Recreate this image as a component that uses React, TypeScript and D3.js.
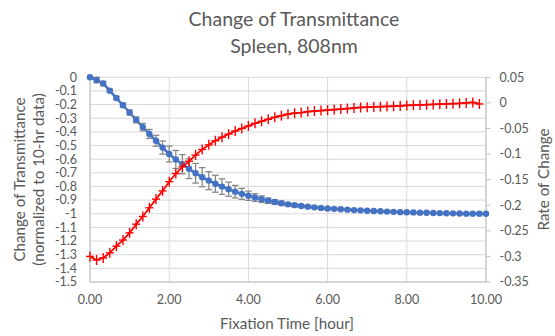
import React from "react";
import * as d3 from "d3";

// Sampling: one reading every 10 minutes over 10 hours
const HOURS_STEP = 1 / 6;

// Change of transmittance, normalized to the 10-hr value (left axis)
const transmittance = [
  0.0, -0.02, -0.045, -0.098, -0.152, -0.205, -0.258, -0.312, -0.365, -0.415,
  -0.465, -0.515, -0.562, -0.602, -0.637, -0.67, -0.703, -0.732, -0.757, -0.78,
  -0.801, -0.82, -0.838, -0.854, -0.868, -0.881, -0.893, -0.904, -0.914, -0.923,
  -0.931, -0.937, -0.943, -0.948, -0.953, -0.957, -0.961, -0.964, -0.967, -0.97,
  -0.973, -0.975, -0.978, -0.98, -0.982, -0.984, -0.986, -0.988, -0.989, -0.99,
  -0.992, -0.993, -0.994, -0.995, -0.996, -0.997, -0.998, -0.999, -0.999, -1.0,
  -1.0,
];

// Standard deviation of the transmittance change (error bars)
const transmittanceErr = [
  0.0, 0.02, 0.015, 0.012, 0.012, 0.015, 0.018, 0.022, 0.027, 0.033,
  0.04, 0.048, 0.058, 0.066, 0.07, 0.072, 0.072, 0.07, 0.066, 0.062,
  0.057, 0.052, 0.046, 0.04, 0.034, 0.028, 0.024, 0.02, 0.017, 0.015,
  0.013, 0.011, 0.009, 0.008, 0.007, 0.006, 0.005, 0.005, 0.004, 0.004,
  0.003, 0.003, 0.003, 0.002, 0.002, 0.002, 0.002, 0.002, 0.001, 0.001,
  0.001, 0.001, 0.001, 0.001, 0.001, 0.001, 0.0, 0.0, 0.0, 0.0,
  0.0,
];

// Rate of change per hour (right axis)
const rateOfChange = [
  -0.3, -0.307, -0.303, -0.293, -0.28, -0.268, -0.254, -0.237, -0.222, -0.205,
  -0.188, -0.172, -0.154, -0.138, -0.125, -0.114, -0.102, -0.091, -0.082, -0.074,
  -0.067, -0.061, -0.055, -0.05, -0.045, -0.04, -0.036, -0.032, -0.028, -0.025,
  -0.022, -0.02, -0.019, -0.017, -0.016, -0.015, -0.014, -0.013, -0.012, -0.011,
  -0.01, -0.009, -0.0085, -0.008, -0.0075, -0.007, -0.0065, -0.006, -0.005, -0.0045,
  -0.004, -0.0035, -0.003, -0.0025, -0.002, -0.0015, -0.001, 0.0, 0.001, -0.002,
];

const xTicks = [0, 2, 4, 6, 8, 10];
const leftTicks = [0, -0.1, -0.2, -0.3, -0.4, -0.5, -0.6, -0.7, -0.8, -0.9, -1, -1.1, -1.2, -1.3, -1.4, -1.5];
const rightTicks = [0.05, 0, -0.05, -0.1, -0.15, -0.2, -0.25, -0.3, -0.35];

const titleLines = ["Change of Transmittance", "Spleen, 808nm"];
const leftTitleLines = ["Change of Transmittance", "(normalized to 10-hr data)"];
const rightTitle = "Rate of Change";
const xTitle = "Fixation Time [hour]";

const W = 555;
const H = 336;
const plot = { left: 90, right: 486, top: 77.3, bottom: 282 };
const FONT = "Lato, 'Liberation Sans', Arial, sans-serif";
const TEXT = "#595959";
const GRID = "#d9d9d9";
const AXIS = "#bfbfbf";
const BLUE = "#4472C4";
const RED = "#FF0000";
const ERR = "#858585";

export default function App() {
  const x = d3.scaleLinear().domain([0, 10]).range([plot.left, plot.right]);
  const yL = d3.scaleLinear().domain([-1.5, 0]).range([plot.bottom, plot.top]);
  const yR = d3.scaleLinear().domain([-0.35, 0.05]).range([plot.bottom, plot.top]);

  const blue = transmittance.map((v, i) => ({ h: i * HOURS_STEP, v, e: transmittanceErr[i] }));
  const red = rateOfChange.map((v, i) => ({ h: i * HOURS_STEP, v }));

  const blueLine = d3
    .line<{ h: number; v: number }>()
    .x((d) => x(d.h))
    .y((d) => yL(d.v));
  const redLine = d3
    .line<{ h: number; v: number }>()
    .x((d) => x(d.h))
    .y((d) => yR(d.v));

  const fmtX = d3.format(".2f");
  const fmtL = (v: number) => (v === 0 ? "0" : String(+v.toFixed(1)));
  const fmtR = (v: number) => (v === 0 ? "0" : String(+v.toFixed(2)));
  const capHalf = 3.3;

  return (
    <svg
      width={W}
      height={H}
      style={{ position: "absolute", left: 0, top: 0, background: "#fff" }}
      fontFamily={FONT}
    >
      <rect x={0} y={0} width={W} height={H} fill="#fff" />

      {/* title */}
      {titleLines.map((t, i) => (
        <text key={t} x={294} y={26 + i * 27.3} textAnchor="middle" fontSize={19.5} fill={TEXT}>
          {t}
        </text>
      ))}

      {/* horizontal gridlines */}
      {leftTicks.map((t) => (
        <line key={"hg" + t} x1={plot.left} x2={plot.right} y1={yL(t)} y2={yL(t)} stroke={GRID} strokeWidth={1} />
      ))}
      {/* vertical gridlines */}
      {xTicks.map((t) => (
        <line key={"vg" + t} x1={x(t)} x2={x(t)} y1={plot.top} y2={plot.bottom} stroke={GRID} strokeWidth={1} />
      ))}

      {/* axes */}
      <line x1={plot.left} x2={plot.left} y1={plot.top} y2={plot.bottom} stroke={AXIS} strokeWidth={1} />
      <line x1={plot.left} x2={plot.right} y1={plot.bottom} y2={plot.bottom} stroke={AXIS} strokeWidth={1} />
      <line x1={plot.right} x2={plot.right} y1={plot.top} y2={plot.bottom} stroke={AXIS} strokeWidth={1} />
      {rightTicks.map((t) => (
        <line key={"rt" + t} x1={plot.right} x2={plot.right + 4.5} y1={yR(t)} y2={yR(t)} stroke={AXIS} strokeWidth={1} />
      ))}

      {/* tick labels */}
      {leftTicks.map((t) => (
        <text key={"lt" + t} x={77} y={yL(t)} dy="0.35em" textAnchor="end" fontSize={12.5} fill={TEXT}>
          {fmtL(t)}
        </text>
      ))}
      {rightTicks.map((t) => (
        <text key={"rl" + t} x={499.5} y={yR(t)} dy="0.35em" textAnchor="start" fontSize={12.5} fill={TEXT}>
          {fmtR(t)}
        </text>
      ))}
      {xTicks.map((t) => (
        <text key={"xt" + t} x={x(t)} y={303.5} textAnchor="middle" fontSize={12.5} fill={TEXT}>
          {fmtX(t)}
        </text>
      ))}

      {/* axis titles */}
      <text x={287} y={329} textAnchor="middle" fontSize={15.2} fill={TEXT}>
        {xTitle}
      </text>
      {leftTitleLines.map((t, i) => (
        <text
          key={t}
          transform={`translate(${19.5 + i * 19},${179.5}) rotate(-90)`}
          dy="0.35em"
          textAnchor="middle"
          fontSize={15.2}
          fill={TEXT}
        >
          {t}
        </text>
      ))}
      <text
        transform={`translate(${544},${179.5}) rotate(-90)`}
        dy="0.35em"
        textAnchor="middle"
        fontSize={15.2}
        fill={TEXT}
      >
        {rightTitle}
      </text>

      {/* transmittance series */}
      <path d={blueLine(blue) || ""} fill="none" stroke={BLUE} strokeWidth={2.5} strokeLinejoin="round" />
      {blue
        .filter((d) => d.e > 0)
        .map((d, i) => {
          const cx = x(d.h);
          const y0 = yL(d.v + d.e);
          const y1 = yL(d.v - d.e);
          return (
            <g key={"e" + i} stroke={ERR} strokeWidth={1.25}>
              <line x1={cx} x2={cx} y1={y0} y2={y1} />
              <line x1={cx - capHalf} x2={cx + capHalf} y1={y0} y2={y0} />
              <line x1={cx - capHalf} x2={cx + capHalf} y1={y1} y2={y1} />
            </g>
          );
        })}
      {blue.map((d, i) => (
        <circle key={"b" + i} cx={x(d.h)} cy={yL(d.v)} r={3.2} fill={BLUE} />
      ))}

      {/* rate of change series */}
      <path d={redLine(red) || ""} fill="none" stroke={RED} strokeWidth={1.75} strokeLinejoin="round" />
      {red.map((d, i) => {
        const cx = x(d.h);
        const cy = yR(d.v);
        return (
          <g key={"r" + i} stroke={RED} strokeWidth={1.4}>
            <line x1={cx - 4} x2={cx + 4} y1={cy} y2={cy} />
            <line x1={cx} x2={cx} y1={cy - 5} y2={cy + 5} />
          </g>
        );
      })}
    </svg>
  );
}
